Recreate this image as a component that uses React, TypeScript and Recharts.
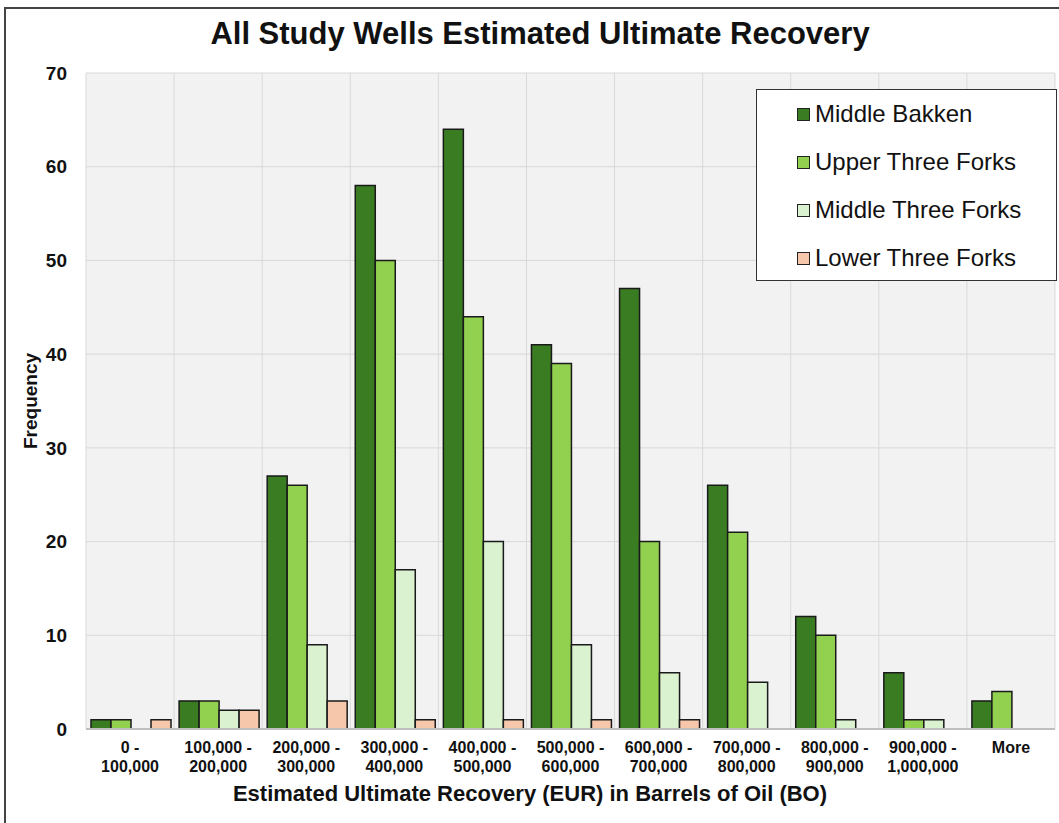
import { BarChart, Bar, XAxis, YAxis, CartesianGrid, Legend } from 'recharts'

const categories = [
  '0 -\n100,000',
  '100,000 -\n200,000',
  '200,000 -\n300,000',
  '300,000 -\n400,000',
  '400,000 -\n500,000',
  '500,000 -\n600,000',
  '600,000 -\n700,000',
  '700,000 -\n800,000',
  '800,000 -\n900,000',
  '900,000 -\n1,000,000',
  'More',
]

const middleBakken = [1, 3, 27, 58, 64, 41, 47, 26, 12, 6, 3]
const upperThreeForks = [1, 3, 26, 50, 44, 39, 20, 21, 10, 1, 4]
const middleThreeForks = [0, 2, 9, 17, 20, 9, 6, 5, 1, 1, 0]
const lowerThreeForks = [1, 2, 3, 1, 1, 1, 1, 0, 0, 0, 0]

const yTicks = [0, 10, 20, 30, 40, 50, 60, 70]

const series = [
  { key: 'mb', name: 'Middle Bakken', color: '#3a7c22' },
  { key: 'utf', name: 'Upper Three Forks', color: '#92d050' },
  { key: 'mtf', name: 'Middle Three Forks', color: '#daf2d0' },
  { key: 'ltf', name: 'Lower Three Forks', color: '#f7c7ac' },
]

const data = categories.map((cat, i) => ({
  cat,
  mb: middleBakken[i],
  utf: upperThreeForks[i],
  mtf: middleThreeForks[i],
  ltf: lowerThreeForks[i],
}))

const font = 'Arial, "Liberation Sans", sans-serif'

const XTick = ({ x, y, payload }: any) => {
  const lines = String(payload.value).split('\n')
  return (
    <text x={x} y={y} textAnchor="middle" fontFamily={font} fontWeight="bold" fontSize={16} fill="#111">
      {lines.map((l, i) => (
        <tspan key={i} x={x} dy={i === 0 ? 24 : 19}>
          {l}
        </tspan>
      ))}
    </text>
  )
}

const LegendBox = () => (
  <div
    style={{
      width: 299,
      height: 190,
      background: '#fff',
      border: '1.5px solid #333',
      boxSizing: 'content-box',
      fontFamily: font,
      fontSize: 24,
      color: '#111',
    }}
  >
    {series.map((s) => (
      <div key={s.key} style={{ display: 'flex', alignItems: 'center', height: 48, paddingLeft: 40 }}>
        <span
          style={{
            display: 'inline-block',
            width: 11,
            height: 11,
            background: s.color,
            border: '1px solid #222',
            marginRight: 5,
          }}
        />
        <span>{s.name}</span>
      </div>
    ))}
  </div>
)

export default function App() {
  return (
    <div style={{ position: 'absolute', left: 0, top: 0, width: 1059, height: 823, background: '#fff', overflow: 'hidden' }}>
      <div
        style={{
          position: 'absolute',
          left: 4,
          top: 7,
          width: 1100,
          height: 900,
          border: '2px solid #444',
        }}
      />
      <div
        style={{
          position: 'absolute',
          left: 0,
          top: 16,
          width: 1080,
          textAlign: 'center',
          fontFamily: font,
          fontWeight: 'bold',
          fontSize: 31,
          color: '#111',
        }}
      >
        All Study Wells Estimated Ultimate Recovery
      </div>
      <div style={{ position: 'absolute', left: 0, top: 0 }}>
        <BarChart
          width={1059}
          height={823}
          data={data}
          margin={{ top: 73, right: 4, bottom: 44, left: 30 }}
          barCategoryGap={5}
          barGap={0}
        >
          <CartesianGrid
            fill="#f2f2f2"
            stroke="#d9d9d9"
            strokeWidth={1}
            verticalCoordinatesGenerator={({ offset }: any) =>
              categories.map((_, i) => offset.left + (i * offset.width) / categories.length).concat(offset.left + offset.width)
            }
          />
          <XAxis
            dataKey="cat"
            height={50}
            tickLine={false}
            tickSize={0}
            tickMargin={0}
            axisLine={{ stroke: '#bfbfbf', strokeWidth: 2 }}
            tick={<XTick />}
            interval={0}
            label={{
              content: () => (
                <text x={530} y={801} textAnchor="middle" fontFamily={font} fontWeight="bold" fontSize={22} fill="#111">
                  Estimated Ultimate Recovery (EUR) in Barrels of Oil (BO)
                </text>
              ),
            }}
          />
          <YAxis
            width={56}
            domain={[0, 70]}
            ticks={yTicks}
            axisLine={false}
            tickLine={false}
            tickSize={0}
            tickMargin={19}
            tick={{ fontFamily: font, fontWeight: 'bold', fontSize: 19, fill: '#111' }}
            label={{
              content: ({ viewBox }: any) => {
                const cy = viewBox.y + viewBox.height / 2
                return (
                  <text
                    x={37}
                    y={cy}
                    transform={`rotate(-90, 37, ${cy})`}
                    textAnchor="middle"
                    fontFamily={font}
                    fontWeight="bold"
                    fontSize={19}
                    fill="#111"
                  >
                    Frequency
                  </text>
                )
              },
            }}
          />
          <Legend
            layout="vertical"
            verticalAlign="middle"
            align="center"
            content={<LegendBox />}
            wrapperStyle={{ top: 89, left: 756, width: 302 }}
          />
          {series.map((s) => (
            <Bar
              key={s.key}
              dataKey={s.key}
              name={s.name}
              fill={s.color}
              stroke="#1a1a1a"
              strokeWidth={1.5}
              isAnimationActive={false}
            />
          ))}
        </BarChart>
      </div>
    </div>
  )
}
